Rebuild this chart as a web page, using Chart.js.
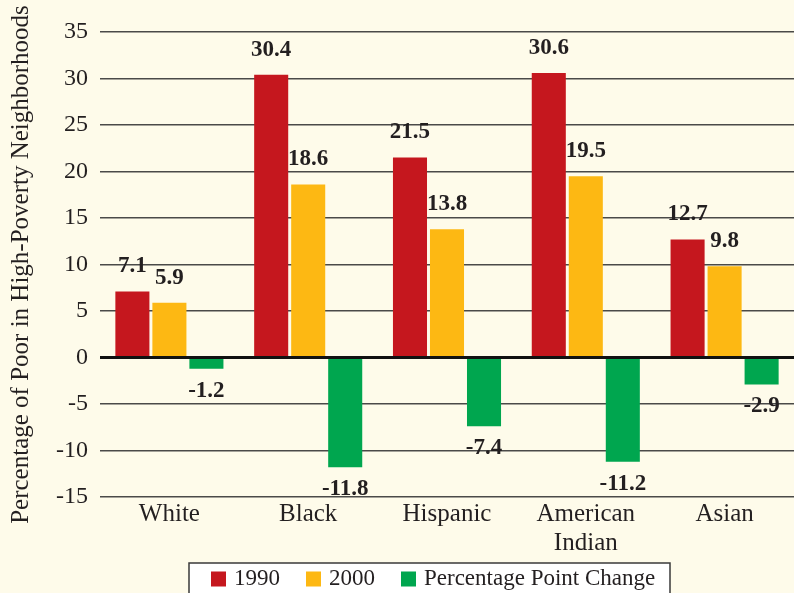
<!DOCTYPE html>
<html>
<head>
<meta charset="utf-8">
<script src="https://cdn.jsdelivr.net/npm/chart.js@4.4.1/dist/chart.umd.min.js"></script>
<style>
html,body{margin:0;padding:0;background:#fefbea;}
#wrap{width:794px;height:593px;position:relative;}
</style>
</head>
<body>
<div id="wrap"><canvas id="c"></canvas></div>
<script>
const categories = ['White', 'Black', 'Hispanic', ['American', 'Indian'], 'Asian'];
const values1990 = [7.1, 30.4, 21.5, 30.6, 12.7];
const values2000 = [5.9, 18.6, 13.8, 19.5, 9.8];
const valuesChange = [-1.2, -11.8, -7.4, -11.2, -2.9];
const seriesNames = ['1990', '2000', 'Percentage Point Change'];
const yTicks = { min: -15, max: 35, step: 5 };
const yTitle = 'Percentage of Poor in High-Poverty Neighborhoods';

const colors = ['#c5171e', '#fdb813', '#00a64f'];
const serif = '"Liberation Serif", "Times New Roman", serif';

const bgPlugin = {
  id: 'bg',
  beforeDraw(chart) {
    const ctx = chart.ctx;
    ctx.save();
    ctx.fillStyle = '#fefbea';
    ctx.fillRect(0, 0, chart.width, chart.height);
    ctx.restore();
  }
};

const valueLabels = {
  id: 'valueLabels',
  afterDatasetsDraw(chart) {
    const ctx = chart.ctx;
    ctx.save();
    ctx.font = 'bold 23px ' + serif;
    ctx.fillStyle = '#231f20';
    ctx.textAlign = 'center';
    ctx.textBaseline = 'middle';
    chart.data.datasets.forEach((ds, i) => {
      const meta = chart.getDatasetMeta(i);
      meta.data.forEach((bar, j) => {
        const v = ds.data[j];
        const y = v >= 0 ? bar.y - 25 : bar.y + 22;
        ctx.fillText(v.toFixed(1), bar.x, y);
      });
    });
    ctx.restore();
  }
};

const customLegend = {
  id: 'customLegend',
  afterDraw(chart) {
    const ctx = chart.ctx;
    ctx.save();
    const boxL = 189, boxR = 670, boxT = 563;
    ctx.fillStyle = '#ffffff';
    ctx.fillRect(boxL, boxT, boxR - boxL, chart.height - boxT + 5);
    ctx.strokeStyle = '#3a3a3a';
    ctx.lineWidth = 1.5;
    ctx.strokeRect(boxL, boxT, boxR - boxL, chart.height - boxT + 5);
    ctx.font = '23px ' + serif;
    ctx.textBaseline = 'middle';
    ctx.textAlign = 'left';
    let x = 211;
    const cy = 579;
    chart.data.datasets.forEach((ds) => {
      ctx.fillStyle = ds.backgroundColor;
      ctx.fillRect(x, cy - 7.5, 15, 15);
      ctx.fillStyle = '#231f20';
      ctx.fillText(ds.label, x + 23, cy);
      x += 23 + ctx.measureText(ds.label).width + 26;
    });
    ctx.restore();
  }
};

new Chart(document.getElementById('c'), {
  type: 'bar',
  data: {
    labels: categories,
    datasets: [
      { label: seriesNames[0], data: values1990, backgroundColor: colors[0] },
      { label: seriesNames[1], data: values2000, backgroundColor: colors[1] },
      { label: seriesNames[2], data: valuesChange, backgroundColor: colors[2] }
    ]
  },
  options: {
    responsive: true,
    maintainAspectRatio: false,
    animation: false,
    devicePixelRatio: 1,
    layout: { padding: { top: 32, bottom: 40, left: 0, right: 0 } },
    datasets: { bar: { categoryPercentage: 0.8, barPercentage: 0.92 } },
    plugins: {
      legend: { display: false },
      tooltip: { enabled: false }
    },
    scales: {
      x: {
        grid: { display: false, drawTicks: false },
        border: { display: false },
        ticks: {
          color: '#231f20',
          font: { family: serif, size: 25, lineHeight: 1.15 },
          padding: 3,
          maxRotation: 0,
          autoSkip: false
        },
        afterFit(scale) { scale.height = 56; }
      },
      y: {
        min: yTicks.min,
        max: yTicks.max,
        border: { display: false },
        grid: {
          drawTicks: false,
          color: (c) => c.tick && c.tick.value === 0 ? '#111111' : '#4a4a48',
          lineWidth: (c) => c.tick && c.tick.value === 0 ? 3 : 1.5
        },
        ticks: {
          stepSize: yTicks.step,
          color: '#231f20',
          font: { family: serif, size: 24 },
          padding: 12
        },
        title: {
          display: true,
          text: yTitle,
          color: '#231f20',
          font: { family: serif, size: 25 },
          padding: { top: 6, bottom: 0 }
        },
        afterFit(scale) { scale.width = 100; }
      }
    }
  },
  plugins: [bgPlugin, valueLabels, customLegend]
});
</script>
</body>
</html>
